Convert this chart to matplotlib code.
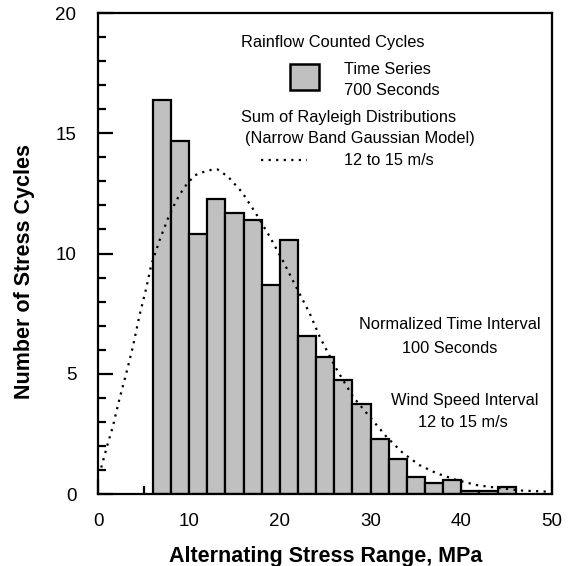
import matplotlib
matplotlib.use("Agg")
import matplotlib.pyplot as plt
from matplotlib.patches import Rectangle
from matplotlib.lines import Line2D

plt.rcParams['font.family'] = ['Liberation Sans', 'DejaVu Sans']

# Histogram of rainflow counted cycles (bin left edges, width 2 MPa)
bin_left = [6, 8, 10, 12, 14, 16, 18, 20, 22, 24, 26, 28, 30, 32, 34, 36, 38, 40, 42, 44]
counts = [16.4, 14.67, 10.83, 12.26, 11.67, 11.41, 8.7, 10.55, 6.55, 5.71,
          4.73, 3.73, 2.28, 1.44, 0.72, 0.44, 0.58, 0.12, 0.12, 0.3]
bin_width = 2

# Sum of Rayleigh distributions
curve_x = [0.3, 1.03, 1.58, 2.32, 3.05, 3.79, 4.53, 5.26, 5.81, 6.73, 7.65, 8.57,
           9.49, 10.6, 12.07, 13.1, 14.27, 15.8, 17.3, 18.9, 20.3, 21.8, 23.3,
           24.4, 26.2, 28.07, 29.9, 31.75, 33.6, 35.4, 37.3, 39.5, 41.7, 44.3,
           46.8, 49.4]
curve_y = [1.1, 2.1, 2.8, 3.97, 5.0, 6.12, 7.44, 8.55, 9.51, 10.55, 11.45, 12.2,
           12.77, 13.25, 13.46, 13.5, 13.2, 12.56, 11.7, 10.69, 9.72, 8.6, 7.5,
           6.53, 5.22, 4.04, 3.21, 2.38, 1.69, 1.2, 0.86, 0.58, 0.37, 0.24,
           0.14, 0.1]

fig = plt.figure(figsize=(5.69, 5.66), dpi=100)
ax = fig.add_axes([0.1731, 0.1272, 0.7970, 0.8498])

ax.bar(bin_left, counts, width=bin_width, align='edge', color='#c0c0c0',
       edgecolor='black', linewidth=1.6, zorder=2)
ax.plot(curve_x, curve_y, color='black', linestyle=(0, (1, 2.4)), linewidth=1.6, zorder=3)

ax.set_xlim(0, 50)
ax.set_ylim(0, 20)
ax.set_xticks([0, 10, 20, 30, 40, 50])
ax.set_xticks([5, 15, 25, 35, 45], minor=True)
ax.set_yticks([0, 5, 10, 15, 20])
ax.set_yticks([i for i in range(21) if i % 5 != 0], minor=True)

for s in ax.spines.values():
    s.set_linewidth(1.6)
    s.set_zorder(4)

ax.tick_params(axis='both', which='major', direction='in', length=11, width=1.6,
               labelsize=13.5, top=False, right=False)
ax.tick_params(axis='both', which='minor', direction='in', length=5.5, width=1.6,
               top=False, right=False)
ax.tick_params(axis='x', which='major', pad=13.5)
ax.tick_params(axis='y', which='major', pad=16)

ax.set_xlabel('Alternating Stress Range, MPa', fontsize=15.5, fontweight='bold')
ax.set_ylabel('Number of Stress Cycles', fontsize=15.5, fontweight='bold')
ax.xaxis.set_label_coords(0.5, -0.109)
ax.yaxis.set_label_coords(-0.14, 0.462)

fs = 11.75
T = ax.transAxes
ax.text(0.3136, 0.9383, 'Rainflow Counted Cycles', transform=T, fontsize=fs, va='center', ha='left')
ax.add_patch(Rectangle((0.4223, 0.840), 0.0639, 0.054, transform=T, facecolor='#c0c0c0',
                       edgecolor='black', linewidth=1.8, zorder=5))
ax.text(0.5413, 0.8836, 'Time Series', transform=T, fontsize=fs, va='center', ha='left')
ax.text(0.5413, 0.8389, '700 Seconds', transform=T, fontsize=fs, va='center', ha='left')
ax.text(0.3136, 0.7838, 'Sum of Rayleigh Distributions', transform=T, fontsize=fs, va='center', ha='left')
ax.text(0.3230, 0.7401, '(Narrow Band Gaussian Model)', transform=T, fontsize=fs, va='center', ha='left')
ax.add_line(Line2D([0.3577, 0.4598], [0.6944, 0.6944], transform=T, color='black',
                   linestyle=(0, (1, 2.4)), linewidth=1.6))
ax.text(0.5413, 0.6944, '12 to 15 m/s', transform=T, fontsize=fs, va='center', ha='left')

ax.text(0.7751, 0.3514, 'Normalized Time Interval', transform=T, fontsize=fs, va='center', ha='center')
ax.text(0.7751, 0.3035, '100 Seconds', transform=T, fontsize=fs, va='center', ha='center')
ax.text(0.8075, 0.1954, 'Wind Speed Interval', transform=T, fontsize=fs, va='center', ha='center')
ax.text(0.8038, 0.1482, '12 to 15 m/s', transform=T, fontsize=fs, va='center', ha='center')

fig.savefig('out.png', dpi=100)
